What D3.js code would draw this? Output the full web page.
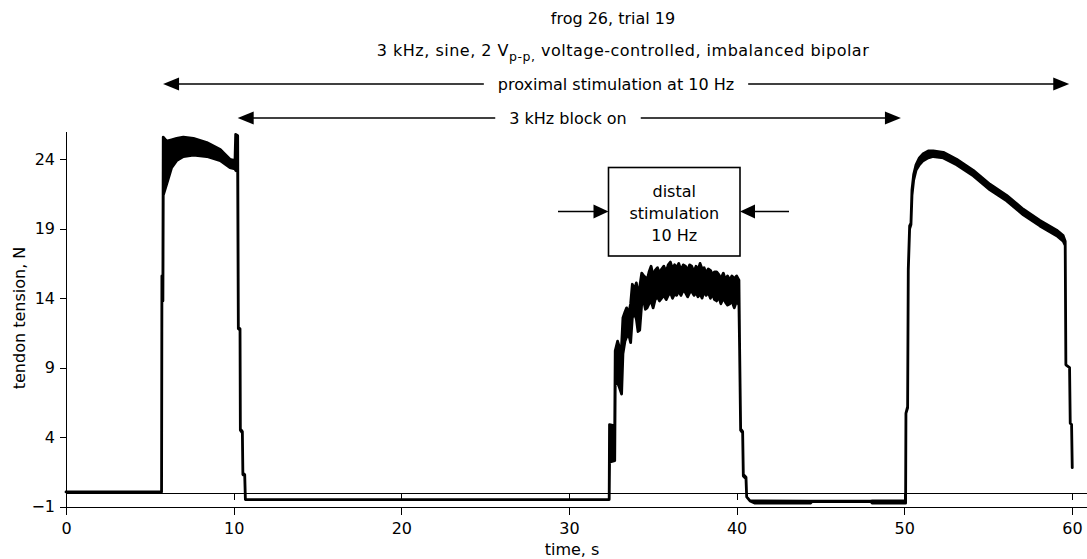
<!DOCTYPE html>
<html>
<head>
<meta charset="utf-8">
<script src="https://cdn.jsdelivr.net/npm/d3@7"></script>
<style>
body { margin: 0; background: #fff; }
svg { display: block; font-family: "DejaVu Sans", sans-serif; }
</style>
</head>
<body>
<svg width="1087" height="559"></svg>
<script>
var xTicks = [0, 10, 20, 30, 40, 50, 60];
var yTicks = [-1, 4, 9, 14, 19, 24];

var traceTime = [
  0, 5.70,
  5.72, 5.78, 5.80, 6.00, 6.30, 6.60, 7.00, 7.60, 8.40, 9.20, 9.78, 10.08, 10.12, 10.24,
  10.28, 10.38, 10.40, 10.52, 10.55, 10.66, 10.70,
  32.40,
  32.42, 32.73, 32.76, 32.90, 33.00, 33.14, 33.22, 33.34, 33.44, 33.56, 33.68, 33.78, 33.90,
  34.02, 34.12, 34.22, 34.34, 34.46, 34.56, 34.66, 34.78, 34.90, 35.02, 35.14, 35.28, 35.40,
  35.53, 35.66, 35.80, 35.92, 36.05, 36.18, 36.30, 36.42, 36.55, 36.68, 36.82, 36.95, 37.08,
  37.20, 37.32, 37.46, 37.58, 37.70, 37.82, 37.94, 38.06, 38.18, 38.31, 38.44, 38.56, 38.68,
  38.81, 38.94, 39.06, 39.21, 39.34, 39.46, 39.60, 39.72, 39.86, 40.00, 40.14,
  40.18, 40.24, 40.36, 40.40, 40.56, 40.60, 40.80,
  41.10, 44.40, 44.50, 48.00, 48.10, 50.08,
  50.10, 50.20, 50.24, 50.32, 50.40, 50.46, 50.56, 50.70, 50.90, 51.13, 51.43, 51.73, 52.33,
  53.12, 54.12, 55.11, 56.11, 57.10, 58.09, 59.09, 59.48, 59.60,
  59.64, 59.86, 59.90, 59.98, 60.02
];
var traceLow = [
  0.05, 0.05,
  13.8, 13.8, 21.4, 22.2, 23.4, 23.9, 24.2, 24.3, 24.2, 23.9, 23.4, 23.3, 23.2, 23.1,
  11.8, 11.7, 4.5, 4.3, 1.3, 1.2, -0.5,
  -0.5,
  2.2, 2.3, 7.8, 7.9, 7.6, 7.1, 10.0, 10.9, 11.2, 11.4, 10.8, 12.6, 12.9,
  12.5, 11.6, 11.7, 13.6, 13.8, 13.2, 13.3, 13.6, 13.8, 13.3, 13.9, 14.1, 13.8,
  14.0, 14.2, 13.9, 14.2, 14.4, 14.0, 14.3, 14.2, 14.5, 14.2, 14.6, 14.4, 14.1,
  14.4, 14.5, 14.2, 14.4, 14.1, 14.3, 14.0, 14.5, 14.2, 14.4, 14.0, 14.3, 13.9,
  13.8, 14.1, 13.6, 14.0, 13.7, 13.5, 13.6, 13.8, 13.3, 13.8, 13.5,
  10.3, 4.5, 4.3, 1.2, 1.0, -0.3, -0.6,
  -0.76, -0.76, -0.64, -0.64, -0.76, -0.76,
  5.7, 6.1, 16.0, 19.0, 19.3, 21.4, 22.5, 23.2, 23.6, 23.9, 24.1, 24.2, 24.1,
  23.6, 22.8, 21.8, 21.0, 20.0, 19.2, 18.5, 18.1, 17.8,
  9.2, 9.0, 5.0, 4.9, 1.8
];
var traceHigh = [
  0.05, 0.05,
  15.6, 15.6, 25.6, 25.3, 25.4, 25.5, 25.6, 25.5, 25.2, 24.7, 24.0, 23.9, 25.8, 25.7,
  11.9, 11.8, 4.6, 4.4, 1.4, 1.3, -0.5,
  -0.5,
  4.9, 4.8, 10.2, 10.9, 10.5, 10.6, 12.6, 13.0, 13.3, 12.9, 13.6, 15.0, 14.6,
  15.1, 14.3, 14.8, 15.8, 15.6, 15.5, 15.3, 15.9, 16.3, 15.6, 16.0, 16.2, 15.8,
  16.1, 16.3, 15.9, 16.4, 16.6, 16.1, 16.4, 16.2, 16.5, 16.0, 16.4, 16.3, 16.0,
  16.4, 16.3, 15.9, 16.3, 16.0, 16.5, 16.1, 16.2, 15.8, 16.1, 16.0, 15.7, 15.9,
  15.9, 15.7, 15.4, 15.8, 15.3, 15.6, 15.3, 15.6, 15.4, 15.6, 15.3,
  10.4, 4.6, 4.4, 1.3, 1.1, -0.3, -0.6,
  -0.6, -0.62, -0.62, -0.62, -0.6, -0.6,
  5.7, 6.2, 16.1, 19.2, 19.4, 21.8, 22.9, 23.6, 24.1, 24.4, 24.6, 24.6, 24.5,
  24.0, 23.2, 22.2, 21.4, 20.4, 19.6, 18.9, 18.5, 18.1,
  9.2, 9.0, 5.0, 4.9, 1.8
];

var svg = d3.select("svg");

var x = d3.scaleLinear().domain([0, 60.9]).range([66, 1087]);
var y = d3.scaleLinear().domain([-1, 26]).range([506.5, 131.5]);

var trace = traceTime.map(function(t, i) {
  return {t: t, lo: traceLow[i], hi: traceHigh[i]};
});

// zero reference line, ticks hanging down
svg.append("g")
    .attr("transform", "translate(0," + y(0) + ")")
    .attr("shape-rendering", "crispEdges")
    .call(d3.axisBottom(x).tickValues(xTicks).tickSize(7).tickSizeOuter(0).tickFormat(""));

var xAxis = svg.append("g")
    .attr("transform", "translate(0," + y(-1) + ")")
    .attr("shape-rendering", "crispEdges")
    .call(d3.axisBottom(x).tickValues(xTicks).tickSize(8).tickSizeOuter(0).tickPadding(8));

var yAxis = svg.append("g")
    .attr("transform", "translate(" + x(0) + ",0)")
    .attr("shape-rendering", "crispEdges")
    .call(d3.axisLeft(y).tickValues(yTicks).tickSize(6).tickSizeOuter(0).tickPadding(5));

svg.selectAll("g").attr("font-family", "DejaVu Sans").attr("font-size", 16);
svg.selectAll(".tick line, .domain").attr("stroke", "#000");
svg.selectAll(".tick text").attr("fill", "#000");

var area = d3.area()
    .x(function(d) { return x(d.t); })
    .y0(function(d) { return y(d.lo); })
    .y1(function(d) { return y(d.hi); });

svg.append("path")
    .datum(trace)
    .attr("d", area)
    .attr("fill", "#000")
    .attr("stroke", "#000")
    .attr("stroke-width", 2.8)
    .attr("stroke-linejoin", "round");

// axis titles
svg.append("text")
    .attr("x", 572).attr("y", 555)
    .attr("text-anchor", "middle")
    .attr("font-size", 16)
    .text("time, s");

svg.append("text")
    .attr("transform", "translate(25,318) rotate(-90)")
    .attr("text-anchor", "middle")
    .attr("font-size", 16)
    .text("tendon tension, N");

// title lines
svg.append("text")
    .attr("x", 613).attr("y", 24)
    .attr("text-anchor", "middle")
    .attr("font-size", 16)
    .text("frog 26, trial 19");

var sub = svg.append("text")
    .attr("x", 623).attr("y", 56)
    .attr("text-anchor", "middle")
    .attr("font-size", 16)
    .attr("letter-spacing", 0.5);
sub.append("tspan").text("3 kHz, sine, 2 V");
sub.append("tspan").attr("dy", 5).attr("font-size", 12.5).text("p-p,");
sub.append("tspan").attr("dy", -5).text(" voltage-controlled, imbalanced bipolar");

function head(xt, yy, dir, len, half) {
  // filled triangle with tip at xt, pointing in dir (+1 right, -1 left)
  var xb = xt - dir * len;
  return "M" + xt + "," + yy + "L" + xb + "," + (yy - half) + "L" + xb + "," + (yy + half) + "Z";
}

function spanArrow(t1, t2, yy, label, cx) {
  var x1 = x(t1), x2 = x(t2);
  var txt = svg.append("text")
      .attr("x", cx).attr("y", yy + 6)
      .attr("text-anchor", "middle")
      .attr("font-size", 16)
      .text(label);
  var w = txt.node().getComputedTextLength();
  var gap = 14;
  svg.append("line")
      .attr("x1", x1 + 4).attr("x2", cx - w / 2 - gap)
      .attr("y1", yy).attr("y2", yy)
      .attr("stroke", "#000").attr("stroke-width", 1.6);
  svg.append("line")
      .attr("x1", cx + w / 2 + gap).attr("x2", x2 - 4)
      .attr("y1", yy).attr("y2", yy)
      .attr("stroke", "#000").attr("stroke-width", 1.6);
  svg.append("path").attr("d", head(x1, yy, -1, 16, 6.5)).attr("fill", "#000");
  svg.append("path").attr("d", head(x2, yy, 1, 16, 6.5)).attr("fill", "#000");
}

spanArrow(5.79, 59.84, 84, "proximal stimulation at 10 Hz", 616);
spanArrow(10.24, 49.80, 118, "3 kHz block on", 568);

// distal stimulation box
var box = {x0: 608.5, x1: 740, y0: 167.5, y1: 256, ya: 211.5};
svg.append("rect")
    .attr("x", box.x0).attr("y", box.y0)
    .attr("width", box.x1 - box.x0).attr("height", box.y1 - box.y0)
    .attr("fill", "#fff").attr("stroke", "#000").attr("stroke-width", 1.6);

svg.selectAll(".boxlabel")
    .data(["distal", "stimulation", "10 Hz"])
  .enter().append("text")
    .attr("class", "boxlabel")
    .attr("x", (box.x0 + box.x1) / 2)
    .attr("y", function(d, i) { return 197 + i * 22; })
    .attr("text-anchor", "middle")
    .attr("font-size", 16)
    .text(function(d) { return d; });

svg.append("line")
    .attr("x1", 558).attr("x2", box.x0 - 4)
    .attr("y1", box.ya).attr("y2", box.ya)
    .attr("stroke", "#000").attr("stroke-width", 1.6);
svg.append("path").attr("d", head(box.x0, box.ya, 1, 15, 7)).attr("fill", "#000");
svg.append("line")
    .attr("x1", box.x1 + 4).attr("x2", 789)
    .attr("y1", box.ya).attr("y2", box.ya)
    .attr("stroke", "#000").attr("stroke-width", 1.6);
svg.append("path").attr("d", head(box.x1, box.ya, -1, 15, 7)).attr("fill", "#000");
</script>
</body>
</html>
